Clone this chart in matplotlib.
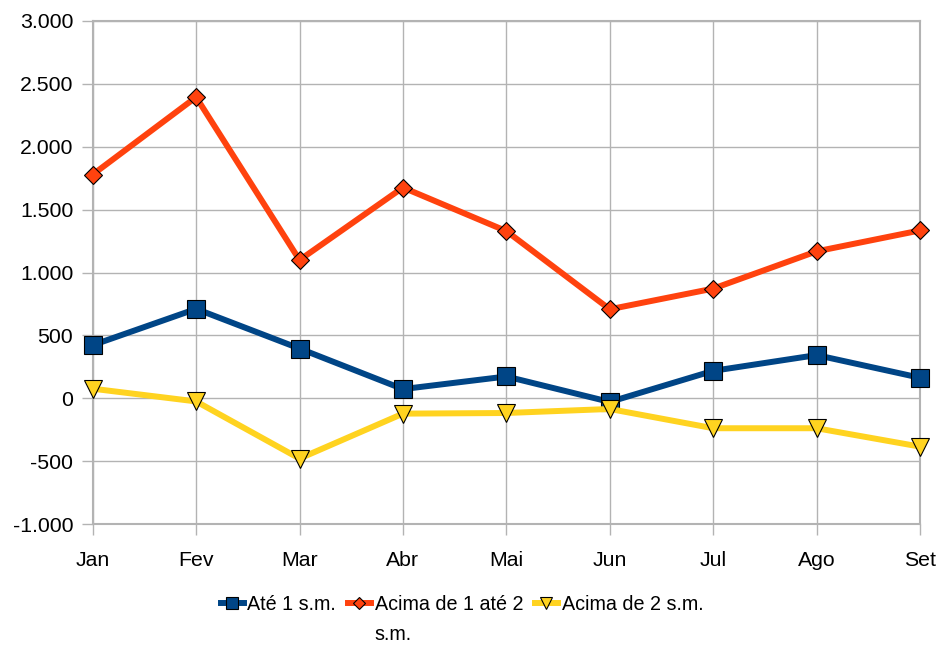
import matplotlib
matplotlib.use('Agg')
import matplotlib.pyplot as plt
from matplotlib.ticker import FuncFormatter

plt.rcParams['font.family'] = ['Liberation Sans', 'DejaVu Sans']

meses = ['Jan', 'Fev', 'Mar', 'Abr', 'Mai', 'Jun', 'Jul', 'Ago', 'Set']
ate_1 = [423, 711, 396, 74, 174, -28, 219, 344, 164]
de_1_a_2 = [1778, 2393, 1099, 1675, 1329, 708, 872, 1168, 1334]
acima_2 = [77, -24, -478, -121, -116, -84, -237, -237, -383]
legendas = ['Até 1 s.m.', 'Acima de 1 até 2', 'Acima de 2 s.m.']

azul = '#004586'
laranja = '#ff420e'
amarelo = '#ffd320'
cinza = '#b3b3b3'

fig = plt.figure(figsize=(9.39, 6.45), dpi=100)
ax = fig.add_axes([92.7 / 939, 1 - 524.3 / 645, (920 - 92.7) / 939, (524.3 - 20.7) / 645])

x = range(len(meses))
l1, = ax.plot(x, ate_1, color=azul, lw=4.3, marker='s', ms=13.5,
              mfc=azul, mec='black', mew=0.8, zorder=3, clip_on=False)
l2, = ax.plot(x, de_1_a_2, color=laranja, lw=4.3, marker='D', ms=9.3,
              mfc=laranja, mec='black', mew=0.8, zorder=3, clip_on=False)
l3, = ax.plot(x, acima_2, color=amarelo, lw=4.3, marker='v', ms=13,
              mfc=amarelo, mec='black', mew=0.8, zorder=4, clip_on=False)

ax.set_xlim(0, len(meses) - 1)
ax.set_ylim(-1000, 3000)
ax.set_yticks(range(-1000, 3001, 500))
ax.yaxis.set_major_formatter(FuncFormatter(lambda v, p: f'{int(v):,}'.replace(',', '.')))
ax.set_xticks(list(x))
ax.set_xticklabels(meses)

ax.grid(True, color=cinza, lw=1)
ax.set_axisbelow(True)
for s in ax.spines.values():
    s.set_color(cinza)
    s.set_linewidth(1.5)
ax.tick_params(axis='both', colors=cinza, labelcolor='black', labelsize=15.3,
               length=8, width=1)
ax.tick_params(axis='y', pad=6)
ax.tick_params(axis='x', pad=11)

leg = fig.legend([l1, l2, l3], legendas, ncol=3, loc='center left',
                 bbox_to_anchor=(211 / 939, 1 - 604 / 645), frameon=False,
                 fontsize=14.2, handlelength=1.15, handletextpad=0.2,
                 columnspacing=0.6, borderpad=0, markerscale=0.65)

# segunda linha da legenda do meio
fig.canvas.draw()
bb = leg.get_texts()[1].get_window_extent()
px, py = fig.transFigure.inverted().transform((bb.x0, bb.y0 + bb.height / 2 - 31))
fig.text(px, py, 's.m.', fontsize=14.2, va='center', ha='left')

fig.savefig('out.png', dpi=100)
